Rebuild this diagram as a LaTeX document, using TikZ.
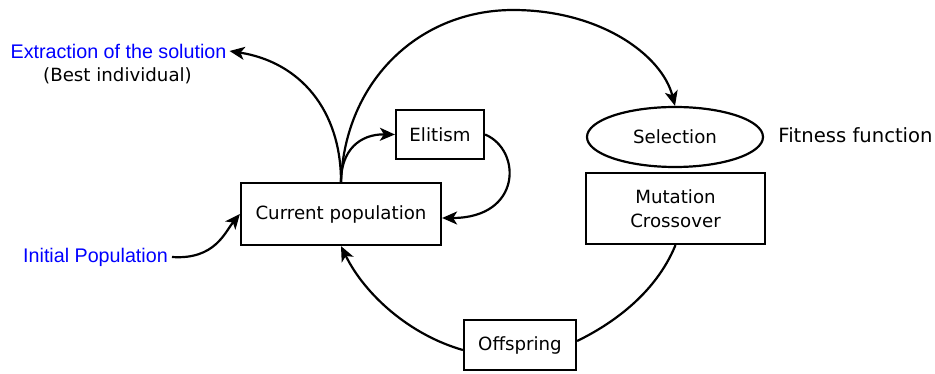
\documentclass[tikz,border=0pt]{standalone}
\usepackage{fontspec}
\setmainfont{DejaVu Sans}
\newfontfamily\arialfont{Liberation Sans}
\usetikzlibrary{arrows.meta,shapes.geometric}
\definecolor{lblue}{RGB}{0,0,255}
\begin{document}
\begin{tikzpicture}[x=1pt,y=-1pt,
  every node/.style={inner sep=0pt, font=\fontsize{18.2}{23.5}\selectfont},
  box/.style={draw, line width=2.2pt, align=center},
  conn/.style={line width=2.2pt},
  arr/.style={conn, -{Stealth[length=15pt,width=13pt,inset=4pt]}},
  bluetext/.style={text=lblue, font=\arialfont\fontsize{19.7}{23}\selectfont}
]
\useasboundingbox (0,0) rectangle (935,374);
\node[box, minimum width=200pt, minimum height=62pt] (cur) at (341,214) {Current population};
\node[box, minimum width=88pt, minimum height=49pt] (eli) at (440,134.5) {Elitism};
\node[draw, ellipse, line width=2.2pt, minimum width=176pt, minimum height=60pt] (sel) at (675,137) {Selection};
\node[box, minimum width=179pt, minimum height=71pt] (mut) at (675.5,208.5) {Mutation\\Crossover};
\node[box, minimum width=112pt, minimum height=50pt] (off) at (520,345) {Offspring};
\node[font=\fontsize{19.6}{23}\selectfont] (fit) at (855.5,135) {Fitness function};
\node[bluetext, inner sep=3pt] (ext) at (118.5,51) {Extraction of the solution};
\node (best) at (117.5,76) {(Best individual)};
\node[bluetext, inner sep=4pt] (init) at (95.5,257) {Initial Population};

\draw[arr] (cur.north) .. controls (341,110) and (300,62) .. (ext.east);
\draw[arr] (cur.north) .. controls (341,150) and (360,134) .. (eli.west);
\draw[arr] (cur.north) .. controls (345,80) and (420,10) .. (513,10)
  .. controls (600,10) and (662,55) .. (sel.north);
\draw[arr] (eli.east) .. controls (522,150) and (522,218) .. ([yshift=-4pt]cur.east);
\draw[arr] (init.east) .. controls (215,260) and (225,232) .. (cur.west);
\draw[conn] (mut.south) .. controls (655,295) and (610,325) .. ([yshift=4pt]off.east);
\draw[arr] ([yshift=-5pt]off.west) .. controls (410,335) and (365,295) .. (cur.south);
\end{tikzpicture}
\end{document}
